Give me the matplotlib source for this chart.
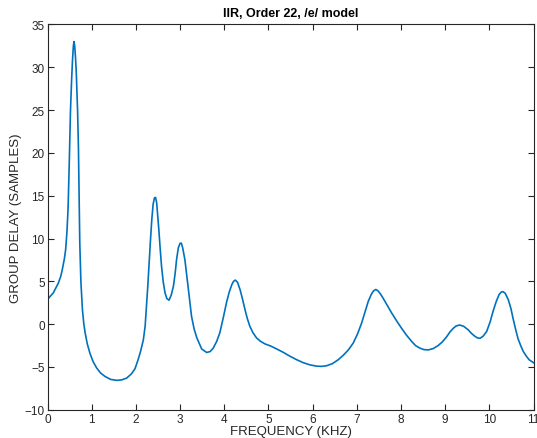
import numpy as np
import matplotlib.pyplot as plt

# group delay of the order-22 IIR /e/ model, read point by point
freq_khz = [0.00, 0.13, 0.245, 0.30, 0.335, 0.38, 0.41, 0.44, 0.465, 0.49,
            0.52, 0.545, 0.565, 0.585, 0.60, 0.615, 0.635, 0.65, 0.68, 0.70,
            0.715, 0.73, 0.755, 0.79, 0.82, 0.85, 0.90, 0.96, 1.03, 1.11,
            1.20, 1.30, 1.43, 1.57, 1.68, 1.79, 1.90, 1.98, 2.05, 2.11,
            2.17, 2.21, 2.24, 2.27, 2.30, 2.33, 2.36, 2.39, 2.42, 2.445,
            2.47, 2.50, 2.52, 2.55, 2.58, 2.62, 2.66, 2.70, 2.75, 2.80,
            2.85, 2.89, 2.92, 2.96, 3.00, 3.03, 3.06, 3.11, 3.15, 3.19,
            3.26, 3.32, 3.38, 3.49, 3.60, 3.68, 3.75, 3.83, 3.90, 3.98,
            4.05, 4.11, 4.17, 4.21, 4.25, 4.30, 4.36, 4.41, 4.47, 4.52,
            4.58, 4.65, 4.73, 4.82, 4.92, 5.05, 5.19, 5.34, 5.49, 5.64,
            5.79, 5.94, 6.09, 6.20, 6.32, 6.45, 6.58, 6.70, 6.81, 6.92,
            7.02, 7.11, 7.19, 7.26, 7.33, 7.38, 7.43, 7.48, 7.54, 7.60,
            7.70, 7.79, 7.90, 8.01, 8.12, 8.24, 8.33, 8.43, 8.52, 8.62,
            8.73, 8.84, 8.93, 9.03, 9.11, 9.18, 9.25, 9.33, 9.42, 9.52,
            9.60, 9.67, 9.73, 9.79, 9.86, 9.94, 10.02, 10.09, 10.16, 10.22,
            10.27, 10.31, 10.36, 10.43, 10.49, 10.54, 10.60, 10.65, 10.71, 10.77,
            10.84, 10.90, 11.00]
delay = [2.9, 3.65, 4.8, 5.6, 6.4, 7.6, 8.7, 10.8, 13.5, 18.4,
         25.0, 28.5, 30.8, 32.5, 33.0, 32.5, 31.0, 29.5, 25.0, 20.5,
         15.0, 9.5, 5.0, 1.7, 0.1, -0.97, -2.3, -3.4, -4.35, -5.1,
         -5.7, -6.1, -6.45, -6.56, -6.5, -6.3, -5.8, -5.2, -4.15, -3.1,
         -1.8, -0.2, 2.1, 4.5, 7.15, 9.8, 12.2, 14.0, 14.75, 14.8,
         14.2, 12.3, 11.0, 8.8, 6.8, 4.9, 3.65, 3.0, 2.8, 3.4,
         4.45, 6.0, 7.5, 8.9, 9.45, 9.45, 8.9, 7.5, 5.8, 4.0,
         0.9, -0.6, -1.6, -2.9, -3.3, -3.2, -2.8, -2.0, -1.0, 0.8,
         2.5, 3.7, 4.6, 5.0, 5.15, 4.9, 4.0, 3.0, 1.7, 0.7,
         -0.25, -1.0, -1.6, -2.0, -2.3, -2.55, -2.9, -3.3, -3.75, -4.15,
         -4.5, -4.75, -4.9, -4.93, -4.85, -4.6, -4.15, -3.6, -3.0, -2.2,
         -1.1, 0.14, 1.5, 2.67, 3.5, 3.9, 4.05, 3.9, 3.5, 3.0,
         2.1, 1.3, 0.4, -0.45, -1.25, -2.0, -2.5, -2.8, -2.97, -3.0,
         -2.85, -2.5, -2.1, -1.5, -0.9, -0.5, -0.2, -0.1, -0.25, -0.65,
         -1.1, -1.4, -1.6, -1.65, -1.4, -0.85, 0.3, 1.6, 2.7, 3.45,
         3.75, 3.8, 3.6, 2.85, 1.8, 0.6, -0.7, -1.7, -2.5, -3.2,
         -3.75, -4.15, -4.5]

xticks = list(range(0, 12))
yticks = list(range(-10, 36, 5))

plt.rcParams['font.family'] = ['Liberation Sans', 'DejaVu Sans']

fig = plt.figure(figsize=(5.37, 4.39), dpi=100)
ax = fig.add_axes([0.0885, 0.0642, 0.905, 0.8778])

ax.plot(freq_khz, delay, color='#0072BD', linewidth=1.2,
        solid_joinstyle='round')

ax.set_xlim(0, 11)
ax.set_ylim(-10, 35)
ax.set_xticks(xticks)
ax.set_yticks(yticks)
ax.tick_params(direction='in', top=True, right=True, length=4, width=0.8,
               labelsize=8.5, colors='#262626', pad=2)
for side in ax.spines.values():
    side.set_color('#262626')
    side.set_linewidth(0.8)

ax.set_title('IIR, Order 22, /e/ model', fontsize=9, fontweight='bold', pad=6)
ax.set_xlabel('FREQUENCY (KHZ)', fontsize=9.5, color='#262626', labelpad=0)
ax.set_ylabel('GROUP DELAY (SAMPLES)', fontsize=9.5, color='#262626', labelpad=2)

fig.savefig('out.png', dpi=100)
